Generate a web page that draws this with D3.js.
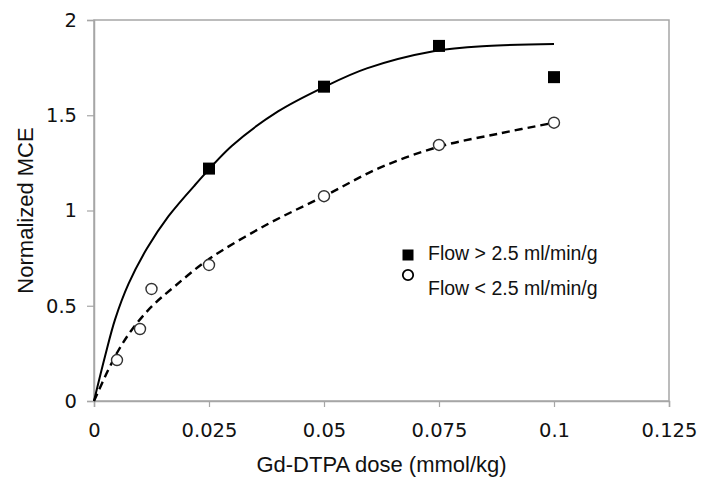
<!DOCTYPE html>
<html>
<head>
<meta charset="utf-8">
<script src="https://cdn.jsdelivr.net/npm/d3@7"></script>
<style>
  body { margin: 0; background: #fff; }
  #chart-container svg { display: block; }
</style>
</head>
<body>
<div id="chart-container"></div>
<script>
// measured points
const highDose = [0.025, 0.05, 0.075, 0.1];
const highMce = [1.22, 1.65, 1.864, 1.70];
const lowDose = [0.005, 0.01, 0.0125, 0.025, 0.05, 0.075, 0.1];
const lowMce = [0.215, 0.378, 0.588, 0.714, 1.075, 1.344, 1.461];

// fitted curves
const highFitX = [0, 0.0024, 0.0046, 0.0075, 0.0115, 0.0162, 0.022, 0.03, 0.04, 0.05, 0.0593, 0.0738, 0.0854, 0.1];
const highFitY = [0, 0.235, 0.43, 0.615, 0.80, 0.97, 1.135, 1.34, 1.52, 1.648, 1.746, 1.836, 1.864, 1.874];
const lowFitX = [0, 0.0031, 0.0053, 0.0082, 0.0125, 0.0176, 0.025, 0.0375, 0.05, 0.0622, 0.075, 0.0883, 0.1];
const lowFitY = [0, 0.163, 0.265, 0.373, 0.495, 0.603, 0.745, 0.925, 1.075, 1.225, 1.335, 1.405, 1.461];

const xTicks = [0, 0.025, 0.05, 0.075, 0.1, 0.125];
const yTicks = [0, 0.5, 1, 1.5, 2];
const legendLabels = ["Flow > 2.5 ml/min/g", "Flow < 2.5 ml/min/g"];

const width = 715, height = 483;
const margin = { top: 20, right: 46, bottom: 82, left: 94 };
const innerW = width - margin.left - margin.right;
const innerH = height - margin.top - margin.bottom;

const svg = d3.select("#chart-container").append("svg")
  .attr("width", width)
  .attr("height", height);

const g = svg.append("g")
  .attr("transform", `translate(${margin.left}, ${margin.top})`);

const x = d3.scaleLinear().domain([0, 0.125]).range([0, innerW]);
const y = d3.scaleLinear().domain([0, 2]).range([innerH, 0]);

const tickFont = "'DejaVu Sans', Verdana, sans-serif";
const labelFont = "'Liberation Sans', Arial, sans-serif";

// frame
g.append("rect")
  .attr("width", innerW)
  .attr("height", innerH)
  .attr("fill", "none")
  .attr("stroke", "#a6a6a6")
  .attr("stroke-width", 1.5);

// axes
const xAxis = g.append("g")
  .attr("transform", `translate(0, ${innerH})`)
  .call(d3.axisBottom(x).tickValues(xTicks).tickSize(6).tickPadding(16)
    .tickFormat(d => d3.format("")(+d.toFixed(3))));

const yAxis = g.append("g")
  .call(d3.axisLeft(y).tickValues(yTicks).tickSize(7).tickPadding(10)
    .tickFormat(d => d));

[xAxis, yAxis].forEach(ax => {
  ax.select(".domain").attr("stroke", "#a6a6a6").attr("stroke-width", 1.5);
  ax.selectAll(".tick line").attr("stroke", "#a6a6a6").attr("stroke-width", 1.2);
  ax.selectAll(".tick text")
    .attr("fill", "#111")
    .style("font-family", tickFont)
    .style("font-size", "19.5px");
});

// fitted curves
const line = d3.line()
  .x(d => x(d[0]))
  .y(d => y(d[1]))
  .curve(d3.curveCatmullRom.alpha(0.5));

g.append("path")
  .datum(highFitX.map((v, i) => [v, highFitY[i]]))
  .attr("d", line)
  .attr("fill", "none")
  .attr("stroke", "#000")
  .attr("stroke-width", 2);

g.append("path")
  .datum(lowFitX.map((v, i) => [v, lowFitY[i]]))
  .attr("d", line)
  .attr("fill", "none")
  .attr("stroke", "#000")
  .attr("stroke-width", 2.4)
  .attr("stroke-dasharray", "8,5");

// markers
g.selectAll(".sq")
  .data(highDose.map((v, i) => [v, highMce[i]]))
  .enter()
  .append("rect")
  .attr("class", "sq")
  .attr("x", d => x(d[0]) - 6)
  .attr("y", d => y(d[1]) - 6)
  .attr("width", 12)
  .attr("height", 12)
  .attr("fill", "#000");

g.selectAll(".circ")
  .data(lowDose.map((v, i) => [v, lowMce[i]]))
  .enter()
  .append("circle")
  .attr("class", "circ")
  .attr("cx", d => x(d[0]))
  .attr("cy", d => y(d[1]))
  .attr("r", 5.5)
  .attr("fill", "#fff")
  .attr("stroke", "#333")
  .attr("stroke-width", 1.4);

// legend
const legend = svg.append("g").attr("transform", "translate(408, 255)");
legend.append("rect")
  .attr("x", -5.5).attr("y", -5.5)
  .attr("width", 11).attr("height", 11)
  .attr("fill", "#000");
legend.append("circle")
  .attr("cx", 0).attr("cy", 20)
  .attr("r", 5.2)
  .attr("fill", "#fff")
  .attr("stroke", "#000")
  .attr("stroke-width", 1.8);
legend.selectAll("text")
  .data(legendLabels)
  .enter()
  .append("text")
  .attr("x", 20)
  .attr("y", (d, i) => 5 + i * 35)
  .style("font-family", labelFont)
  .style("font-size", "19.5px")
  .attr("fill", "#111")
  .text(d => d);

// axis titles
svg.append("text")
  .attr("x", margin.left + innerW / 2)
  .attr("y", 472)
  .attr("text-anchor", "middle")
  .style("font-family", labelFont)
  .style("font-size", "22px")
  .attr("fill", "#111")
  .text("Gd-DTPA dose (mmol/kg)");

svg.append("text")
  .attr("transform", `translate(33, ${margin.top + innerH / 2}) rotate(-90)`)
  .attr("text-anchor", "middle")
  .style("font-family", labelFont)
  .style("font-size", "22px")
  .attr("fill", "#111")
  .text("Normalized MCE");
</script>
</body>
</html>
